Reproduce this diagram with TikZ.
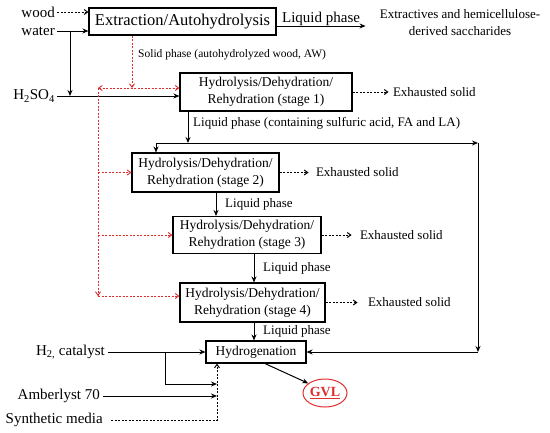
\documentclass[tikz,border=0pt]{standalone}
\usepackage{fontspec}
\setmainfont{Liberation Serif}
\usetikzlibrary{arrows.meta,shapes.geometric}
\definecolor{gvlred}{RGB}{222,45,45}
\begin{document}
\begin{tikzpicture}[x=1pt,y=-1pt,
 box/.style={draw, line width=1.1pt, inner sep=0pt, align=center, font=\fontsize{13.5}{17}\selectfont},
 lbl/.style={inner sep=0pt, font=\fontsize{13}{15}\selectfont},
 big/.style={inner sep=0pt, font=\fontsize{15}{17}\selectfont},
 arr/.style={line width=1pt, -{Stealth[length=6pt,width=5pt]}},
 dasharr/.style={line width=1pt, dash pattern=on 2pt off 1.5pt, -{Straight Barb[length=3.5pt,width=5pt]}},
 reddash/.style={draw=gvlred, line width=0.9pt, dash pattern=on 2pt off 1.5pt},
 redarr/.style={reddash, -{Straight Barb[length=3.5pt,width=5pt]}},
 redboth/.style={reddash, {Straight Barb[length=3.5pt,width=5pt]}-{Straight Barb[length=3.5pt,width=5pt]}},
]
\useasboundingbox (0,0) rectangle (550,432);

% boxes
\node[box, minimum width=187pt, minimum height=27pt, font=\fontsize{16.5}{19}\selectfont] (top) at (182.5,21.5) {Extraction/Autohydrolysis};
\node[box, minimum width=172pt, minimum height=38pt] (s1) at (266,92) {Hydrolysis/Dehydration/\\Rehydration (stage 1)};
\node[box, minimum width=147pt, minimum height=39pt] (s2) at (205.5,172.5) {Hydrolysis/Dehydration/\\Rehydration (stage 2)};
\node[box, minimum width=148pt, minimum height=37pt] (s3) at (247,235) {Hydrolysis/Dehydration/\\Rehydration (stage 3)};
\node[box, minimum width=145pt, minimum height=39pt] (s4) at (252.5,302.5) {Hydrolysis/Dehydration/\\Rehydration (stage 4)};
\node[box, minimum width=100pt, minimum height=22pt] (hyd) at (256,352) {Hydrogenation};
\node[ellipse, draw=gvlred, line width=1pt, minimum width=44pt, minimum height=28pt, inner sep=0pt, text=gvlred, font=\bfseries\fontsize{14}{16}\selectfont] (gvl) at (325,393) {\underline{GVL}};

% labels
\node[big, anchor=east] (wood) at (55,12) {wood};
\node[big, anchor=east] (water) at (55,31) {water};
\node[big, anchor=east] (h2so4) at (55,96) {H\textsubscript{2}SO\textsubscript{4}};
\node[big, anchor=east] (h2) at (105,352) {H\textsubscript{2,} catalyst};
\node[big, anchor=east] (amb) at (100,396) {Amberlyst 70};
\node[big, anchor=east] (syn) at (103,420) {Synthetic media};
\node[lbl, align=center, font=\fontsize{13}{17}\selectfont] (extr) at (460,22.5) {Extractives and hemicellulose-\\derived saccharides};
\node[lbl, anchor=west, font=\fontsize{11.5}{13}\selectfont] (solid) at (138,55) {Solid phase (autohydrolyzed wood, AW)};
\node[lbl, anchor=west] (lq1) at (193,123) {Liquid phase (containing sulfuric acid, FA and LA)};
\node[lbl, anchor=west] (lq2) at (225,204) {Liquid phase};
\node[lbl, anchor=west] (lq3) at (263,268) {Liquid phase};
\node[lbl, anchor=west] (lq4) at (263,331) {Liquid phase};

% coordinates
\coordinate (j1) at (70,31);
\coordinate (sp) at (132,88);
\coordinate (rl) at (98,88);
\coordinate (r2) at (98,172.5);
\coordinate (r3) at (98,235);
\coordinate (rb) at (98,296);
\coordinate (split) at (188,143);
\coordinate (c2) at (156,143);
\coordinate (cr1) at (478,143);
\coordinate (cr2) at (478,352);
\coordinate (x216) at (216,0);
\coordinate (x254) at (254,0);
\coordinate (x265) at (265,0);
\coordinate (b1a) at (165,352);
\coordinate (b1b) at (165,384);
\coordinate (vd) at (217,0);

% inputs
\draw[dasharr] ([xshift=2pt]wood.east) -- (wood.east -| top.west);
\draw[arr] ([xshift=2pt]water.east) -- (water.east -| top.west);
\draw[arr] (j1) -- (j1 |- h2so4.east);
\draw[arr] ([xshift=2pt]h2so4.east) -- (h2so4.east -| s1.west);
\draw[arr] ([yshift=-4.5pt]top.east) -- ++(89,0) node[midway, above=0pt, big] {Liquid phase};

% red solid-phase distribution
\draw[redarr] (top.south -| sp) -- (sp);
\draw[redboth] (rl) -- (sp -| s1.west);
\draw[redarr] (rl) -- (rb);
\draw[redarr] (r2) -- (r2 -| s2.west);
\draw[redarr] (r3) -- (r3 -| s3.west);
\draw[redarr] (rb) -- (rb -| s4.west);

% exhausted solids
\draw[dasharr] (s1.east) -- ++(36,0) node[right=4pt, lbl] {Exhausted solid};
\draw[dasharr] (s2.east) -- ++(29,0) node[right=7pt, lbl] {Exhausted solid};
\draw[dasharr] (s3.east) -- ++(30,0) node[right=8pt, lbl] {Exhausted solid};
\draw[dasharr] (s4.east) -- ++(32,0) node[right=10pt, lbl] {Exhausted solid};

% liquid phase flows
\draw[arr] (s1.south -| split) -- (split);
\draw[arr] (split) -- (c2) -- (c2 |- s2.north);
\draw[arr] (split) -- (cr1);
\draw[arr] (cr1) -- (cr2);
\draw[arr] (cr2) -- (cr2 -| hyd.east);
\draw[arr] (s2.south -| x216) -- (s3.north -| x216);
\draw[arr] (s3.south -| x254) -- (s4.north -| x254);
\draw[arr] (s4.south -| x254) -- (hyd.north -| x254);

% hydrogenation inputs
\draw[arr] ([xshift=3pt]h2.east) -- (h2.east -| hyd.west);
\draw[arr] (b1a) -- (b1b) -- (b1b -| vd);
\draw[arr] ([xshift=3pt]amb.east) -- (amb.east -| vd);
\draw[dasharr] ([xshift=8pt]syn.east) -- (syn.east -| vd) -- (vd |- hyd.south);
\draw[arr] (hyd.south -| x265) -- (gvl.150);
\end{tikzpicture}
\end{document}
